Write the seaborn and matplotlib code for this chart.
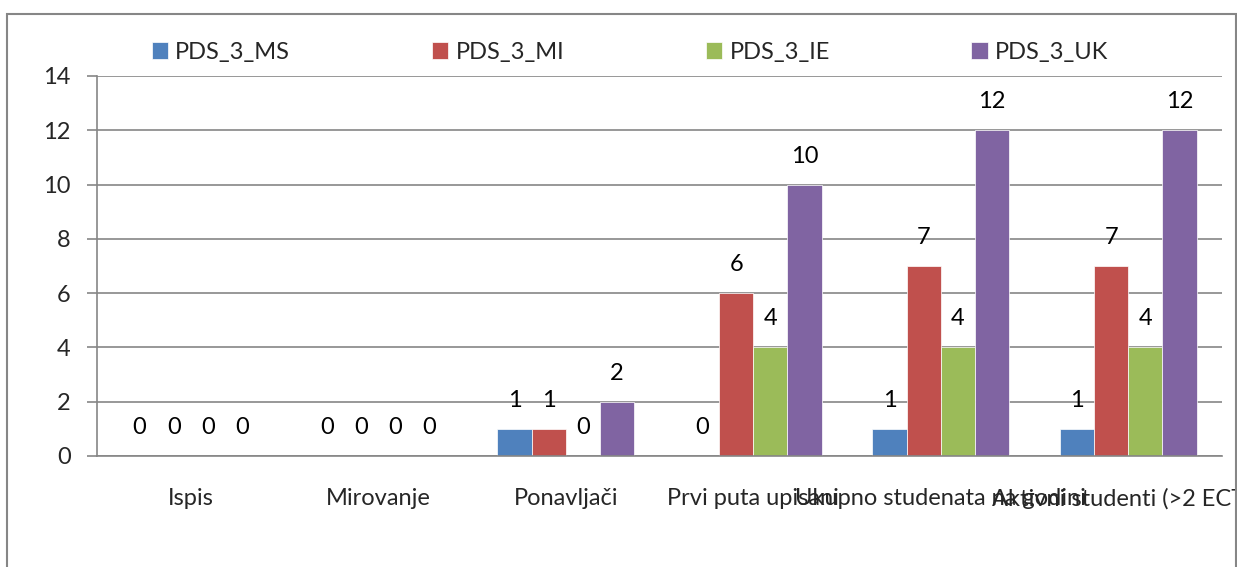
import pandas as pd
import matplotlib
matplotlib.use("Agg")
import matplotlib.pyplot as plt
from matplotlib.patches import Rectangle
import seaborn as sns

# Data
categories = ["Ispis", "Mirovanje", "Ponavljači", "Prvi puta upisani",
              "Ukupno studenata na godini", "Aktivni studenti (>2 ECTS)"]
series = ["PDS_3_MS", "PDS_3_MI", "PDS_3_IE", "PDS_3_UK"]
ms = [0, 0, 1, 0, 1, 1]
mi = [0, 0, 1, 6, 7, 7]
ie = [0, 0, 0, 4, 4, 4]
uk = [0, 0, 2, 10, 12, 12]
colors = ["#4F81BD", "#C0504D", "#9BBB59", "#8064A2"]

rows = []
for name, vals in zip(series, [ms, mi, ie, uk]):
    for cat, v in zip(categories, vals):
        rows.append({"Kategorija": cat, "Serija": name, "Broj": v})
df = pd.DataFrame(rows)

sns.set_theme(style="white")
plt.rcParams["font.family"] = ["Lato", "DejaVu Sans"]
fs = 17
grey = "#868686"

W, H = 1237, 567
fig = plt.figure(figsize=(W / 100, H / 100), dpi=100)
ax = fig.add_axes([97 / W, 1 - 456 / H, (1222 - 97) / W, (456 - 76) / H])

sns.barplot(data=df, x="Kategorija", y="Broj", hue="Serija", hue_order=series,
            order=categories, palette=colors, width=0.73, saturation=1,
            edgecolor="white", linewidth=0.5, ax=ax)

for cont in ax.containers:
    ax.bar_label(cont, fmt="%d", padding=13, fontsize=fs, color="black")

ax.set_ylim(0, 14)
ax.set_yticks(range(0, 15, 2))
ax.set_xlim(-0.5, len(categories) - 0.5)
ax.yaxis.grid(True, color=grey, linewidth=1.2)
ax.set_axisbelow(True)
ax.set_xlabel("")
ax.set_ylabel("")

# category labels centred, tick marks on the boundaries
ax.set_xticks(range(len(categories)))
ax.set_xticklabels(categories)
ax.set_xticks([i - 0.5 for i in range(len(categories) + 1)], minor=True)
ax.tick_params(axis="x", which="major", length=0, pad=23, labelsize=fs)
ax.tick_params(axis="x", which="minor", length=5, width=1.2, color=grey, direction="out")
ax.tick_params(axis="y", length=7, width=1.2, color=grey, pad=12, labelsize=fs, left=True)

for side in ["top", "right"]:
    ax.spines[side].set_visible(False)
for side in ["left", "bottom"]:
    ax.spines[side].set_color(grey)
    ax.spines[side].set_linewidth(1.2)

handles, labels = ax.get_legend_handles_labels()
ax.legend_.remove()
fig.legend(handles, labels, loc="center", bbox_to_anchor=(630 / W, 1 - 52 / H),
           ncol=4, frameon=False, fontsize=fs, handlelength=0.7, handleheight=0.7,
           handletextpad=0.3, columnspacing=6.0)

# outer chart frame
fig.patches.append(Rectangle((7 / W, -0.1), (1236 - 7) / W, 1.1 - 14 / H,
                             transform=fig.transFigure, fill=False,
                             edgecolor=grey, linewidth=1.5))

fig.savefig("out.png", dpi=100)
